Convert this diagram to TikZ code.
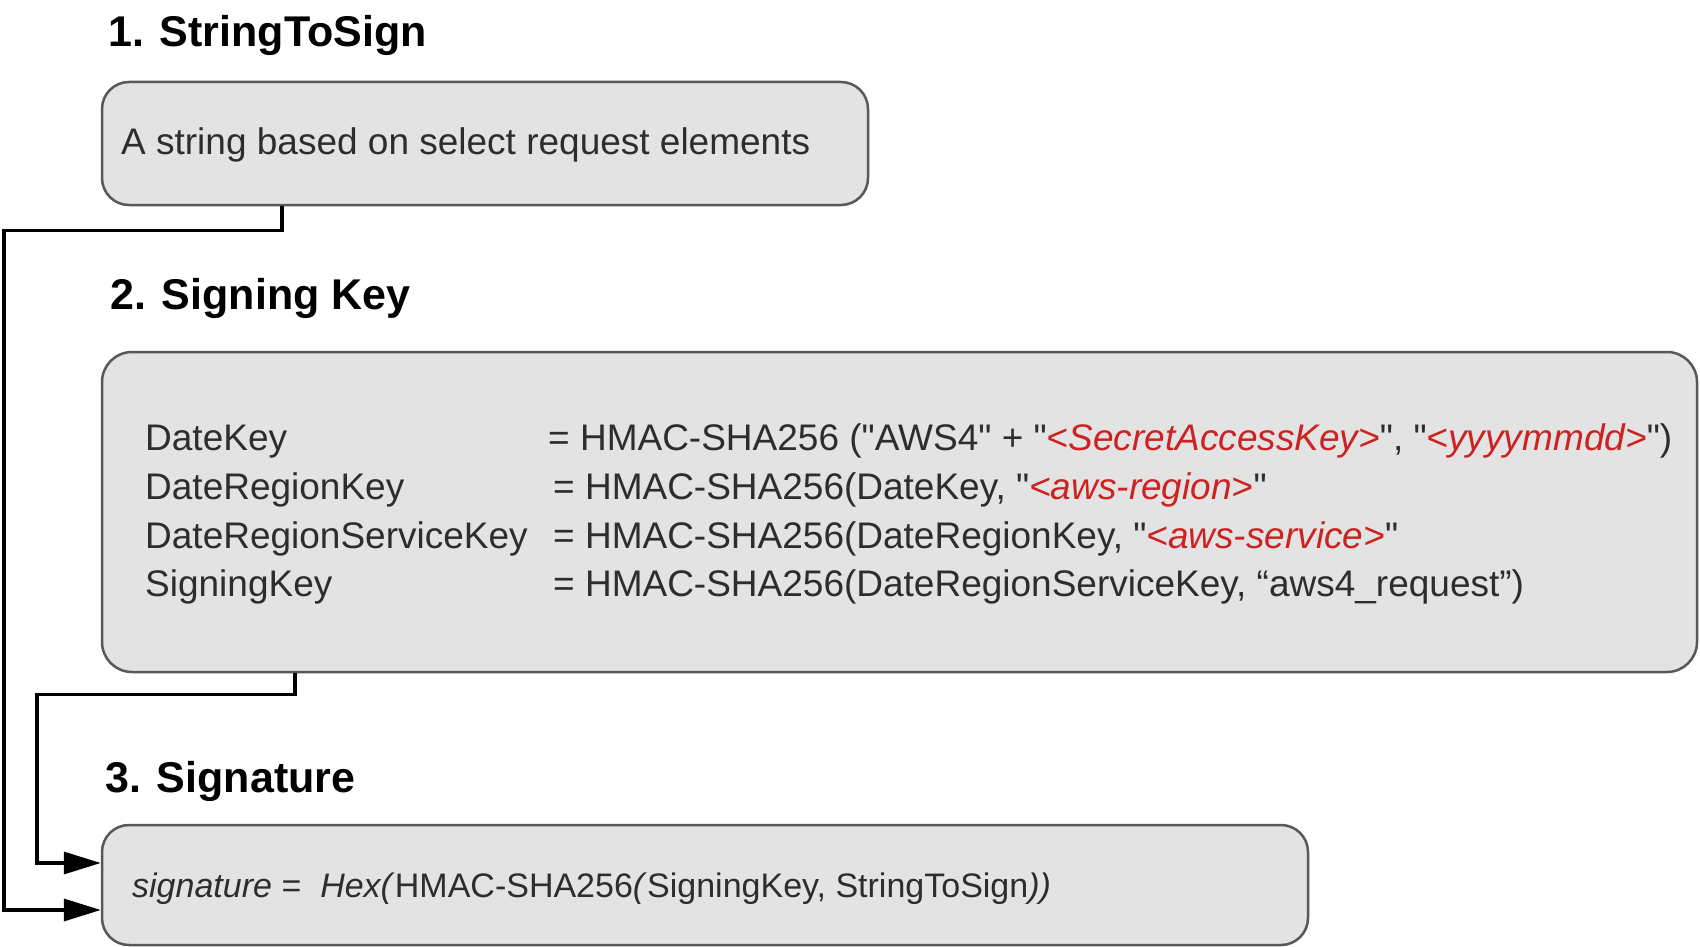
\documentclass[tikz,border=0pt]{standalone}
\usepackage{fontspec}
\setmainfont{Liberation Sans}[Ligatures=TeXOff]
\usepackage{xcolor}
\usepackage{tikz}
\usetikzlibrary{positioning,calc,arrows.meta}

\definecolor{panelfill}{RGB}{227,227,227}
\definecolor{panelline}{RGB}{88,88,88}
\definecolor{awsred}{RGB}{204,34,34}
\definecolor{bodytext}{RGB}{45,45,45}
\newcommand{\placeholder}[1]{\textcolor{awsred}{\itshape #1}}

\begin{document}
\begin{tikzpicture}[x=1pt, y=-1pt,
    panel/.style={draw=panelline, line width=2.5pt, fill=panelfill, rounded corners=27pt, inner sep=0pt},
    heading/.style={anchor=base west, inner sep=0pt, font=\fontsize{43}{50}\selectfont\bfseries},
    body/.style={anchor=base west, inner sep=0pt, text=bodytext, font=\fontsize{37}{44}\selectfont},
    link/.style={line width=3.5pt, -{Triangle[length=37pt,width=22pt]}}
]
    \useasboundingbox (0,0) rectangle (1700,947);

    % 1. string to sign
    \node [heading] (title1) at (108,47) {1. StringToSign};
    \node [panel, minimum width=766pt, minimum height=123pt] (strbox) at (485,143.5) {};
    \node [body] (strtext) at (121,155) {A string based on select request elements};

    % 2. signing key
    \node [heading] (title2) at (110,309) {2. Signing Key};
    \node [panel, minimum width=1595pt, minimum height=320pt, rounded corners=30pt] (keybox) at (899.5,512) {};
    \node [body] (datekey) at (145,450) {DateKey};
    \node [body] (regionkey) at (145,499) {DateRegionKey};
    \node [body] (servicekey) at (145,548) {DateRegionServiceKey};
    \node [body] (signingkey) at (145,596) {SigningKey};
    \node [body] (datekeyval) at (548,450) {= HMAC-SHA256 ("AWS4" + "\placeholder{<SecretAccessKey>}", "\placeholder{<yyyymmdd>}")};
    \node [body] (regionkeyval) at (553,499) {= HMAC-SHA256(DateKey, "\placeholder{<aws-region>}"};
    \node [body] (servicekeyval) at (553,548) {= HMAC-SHA256(DateRegionKey, "\placeholder{<aws-service>}"};
    \node [body] (signingkeyval) at (553,596) {= HMAC-SHA256(DateRegionServiceKey, “aws4\_request”)};

    % 3. signature
    \node [heading] (title3) at (105,792) {3. Signature};
    \node [panel, minimum width=1206pt, minimum height=120pt] (sigbox) at (705,885) {};
    \node [body, font=\fontsize{34}{40}\selectfont] (sigtext) at (132,897) {\textit{signature} =\ \ \textit{Hex(}HMAC-SHA256\textit{(}SigningKey, StringToSign\textit{))}};

    \draw [link] ([xshift=181pt]strbox.south west) -- ++(0,24) -| (4,910) -- ([yshift=-25pt]sigbox.west);
    \draw [link] ([xshift=194pt]keybox.south west) -- ++(0,21) -| (37,863) -- ([yshift=22pt]sigbox.west);
\end{tikzpicture}
\end{document}
